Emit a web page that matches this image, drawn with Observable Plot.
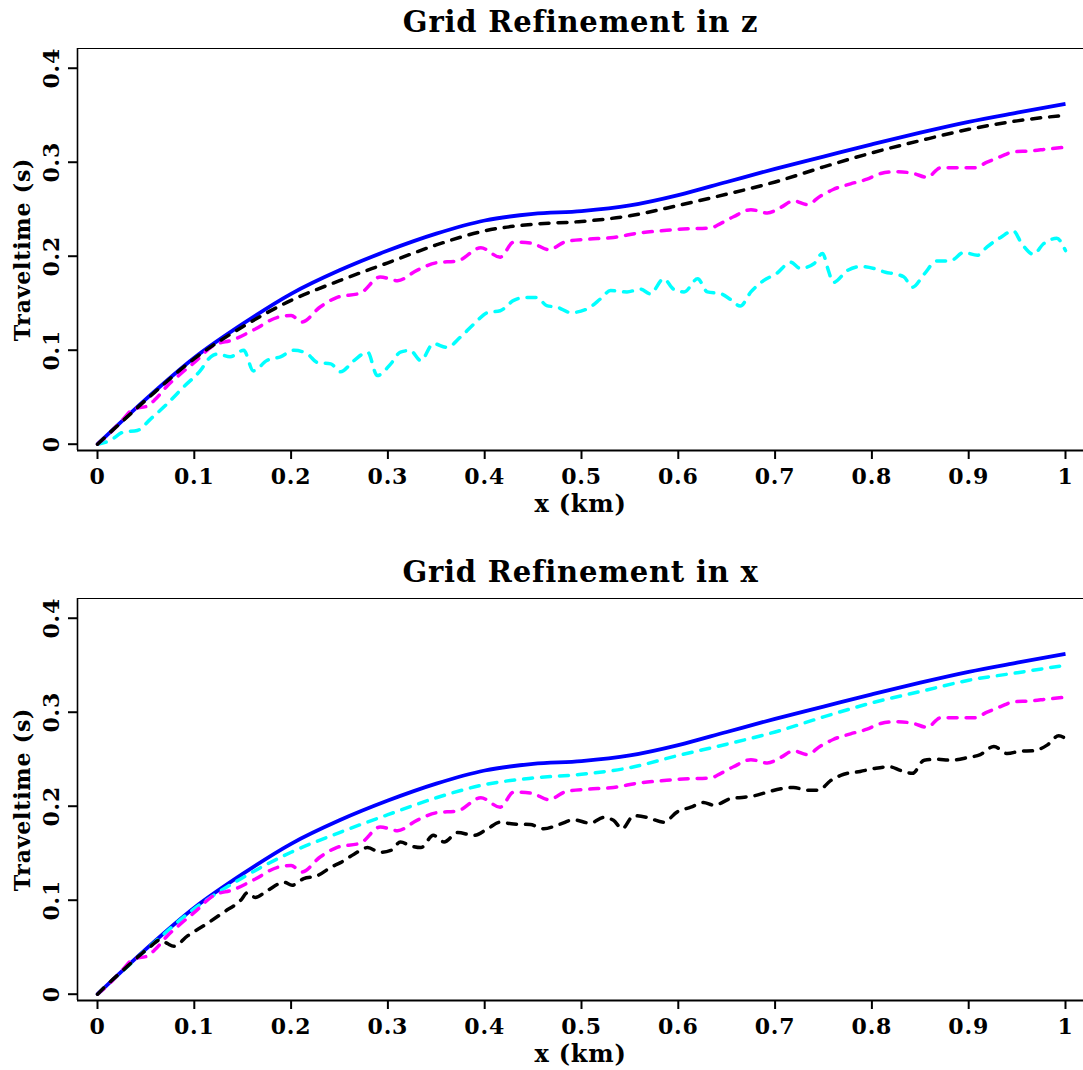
<!DOCTYPE html>
<html><head><meta charset="utf-8">
<script src="https://cdn.jsdelivr.net/npm/d3@7"></script>
<script src="https://cdn.jsdelivr.net/npm/@observablehq/plot@0.6"></script>
<style>
html,body{margin:0;padding:0;background:#fff;overflow:hidden;}
#c svg{display:block;}
#c svg text{letter-spacing:0.8px;}
</style></head><body><div id="c"></div>
<script>
// ---- tick labels ----
const xTicks = [0,0.1,0.2,0.3,0.4,0.5,0.6,0.7,0.8,0.9,1];
const yTicks = [0,0.1,0.2,0.3,0.4];
const titles = ["Grid Refinement in z", "Grid Refinement in x"];
const xLabel = "x (km)";
const yLabel = "Traveltime (s)";

// ---- exact solution (blue, both panels) ----
const exactX = [0,0.05,0.1,0.15,0.2,0.25,0.3,0.35,0.4,0.45,0.5,0.55,0.6,0.65,0.7,0.75,0.8,0.85,0.9,0.95,1.0];
const exactT = [0,0.048,0.092,0.128,0.160,0.185,0.206,0.224,0.238,0.245,0.248,0.254,0.265,0.279,0.293,0.306,0.319,0.3315,0.343,0.3527,0.362];

// ---- coarse grid (magenta, both panels) ----
const coarseX = [0,0.013,0.025,0.038,0.05,0.06,0.072,0.086,0.1,0.12,0.14,0.162,0.186,0.2,0.211,0.23,0.247,0.272,0.292,0.31,0.33,0.35,0.372,0.396,0.416,0.43,0.448,0.466,0.485,0.505,0.533,0.561,0.582,0.605,0.633,0.644,0.657,0.675,0.692,0.706,0.719,0.733,0.747,0.76,0.778,0.795,0.809,0.826,0.843,0.857,0.871,0.892,0.905,0.919,0.933,0.946,0.964,0.981,1.0];
const coarseT = [0,0.012,0.025,0.038,0.040,0.048,0.062,0.075,0.087,0.105,0.111,0.122,0.135,0.137,0.130,0.146,0.156,0.161,0.178,0.174,0.185,0.193,0.195,0.209,0.199,0.215,0.214,0.207,0.216,0.218,0.220,0.225,0.227,0.229,0.230,0.235,0.242,0.2495,0.246,0.252,0.259,0.255,0.264,0.271,0.277,0.282,0.288,0.290,0.288,0.284,0.294,0.294,0.294,0.300,0.306,0.311,0.312,0.314,0.316];

// ---- fine refinement (black in z panel, cyan in x panel) ----
const fineZX = [0,0.05,0.1,0.15,0.2,0.25,0.3,0.35,0.4,0.45,0.5,0.55,0.6,0.65,0.7,0.75,0.8,0.85,0.9,0.95,1.0];
const fineZT = [0,0.047,0.091,0.125,0.153,0.174,0.193,0.212,0.227,0.234,0.237,0.243,0.254,0.266,0.279,0.295,0.310,0.323,0.335,0.344,0.350];
const fineXX = [0,0.05,0.1,0.15,0.2,0.25,0.3,0.35,0.4,0.45,0.5,0.55,0.6,0.65,0.7,0.75,0.8,0.85,0.9,0.95,1.0];
const fineXT = [0,0.047,0.091,0.124,0.151,0.172,0.191,0.209,0.223,0.230,0.234,0.241,0.254,0.266,0.279,0.295,0.310,0.322,0.334,0.342,0.350];

// ---- medium refinement in z (cyan, top panel) ----
const medZX = [0,0.013,0.027,0.041,0.055,0.072,0.089,0.106,0.117,0.124,0.137,0.151,0.161,0.175,0.189,0.203,0.217,0.227,0.241,0.251,0.265,0.279,0.289,0.303,0.313,0.323,0.334,0.347,0.361,0.375,0.389,0.403,0.416,0.43,0.44,0.454,0.464,0.475,0.489,0.506,0.52,0.53,0.547,0.561,0.571,0.585,0.595,0.606,0.62,0.63,0.644,0.654,0.664,0.675,0.688,0.702,0.716,0.726,0.74,0.749,0.755,0.76,0.775,0.788,0.802,0.814,0.824,0.833,0.842,0.854,0.867,0.881,0.895,0.909,0.919,0.933,0.946,0.955,0.967,0.977,0.991,1.0];
const medZT = [0,0.004,0.013,0.0146,0.027,0.043,0.061,0.078,0.093,0.096,0.093,0.100,0.078,0.089,0.093,0.100,0.096,0.087,0.0855,0.077,0.089,0.098,0.073,0.0855,0.098,0.0997,0.089,0.107,0.103,0.114,0.128,0.140,0.142,0.153,0.156,0.156,0.1475,0.1457,0.140,0.144,0.155,0.1635,0.162,0.165,0.160,0.176,0.165,0.162,0.176,0.162,0.160,0.154,0.147,0.162,0.174,0.182,0.1936,0.187,0.192,0.203,0.185,0.172,0.185,0.189,0.187,0.183,0.181,0.178,0.167,0.181,0.195,0.195,0.204,0.201,0.210,0.220,0.227,0.213,0.202,0.213,0.219,0.206];

// ---- medium refinement in x (black, bottom panel) ----
const medXX = [0,0.013,0.027,0.041,0.055,0.065,0.072,0.079,0.093,0.113,0.13,0.148,0.155,0.163,0.175,0.193,0.201,0.213,0.227,0.241,0.251,0.265,0.279,0.292,0.303,0.313,0.323,0.334,0.347,0.358,0.372,0.389,0.403,0.416,0.43,0.447,0.461,0.478,0.492,0.509,0.523,0.533,0.542,0.554,0.568,0.585,0.599,0.613,0.626,0.637,0.654,0.668,0.678,0.692,0.706,0.719,0.733,0.745,0.757,0.771,0.788,0.802,0.818,0.83,0.842,0.854,0.867,0.881,0.898,0.912,0.926,0.94,0.953,0.967,0.981,0.993,1.0];
const medXT = [0,0.013,0.026,0.039,0.051,0.058,0.054,0.051,0.062,0.075,0.087,0.100,0.108,0.103,0.110,0.119,0.116,0.123,0.126,0.135,0.140,0.149,0.156,0.151,0.153,0.162,0.158,0.156,0.169,0.162,0.172,0.169,0.176,0.183,0.181,0.1805,0.176,0.181,0.1855,0.182,0.188,0.185,0.176,0.190,0.188,0.183,0.194,0.199,0.204,0.201,0.208,0.2096,0.211,0.215,0.2185,0.220,0.217,0.217,0.227,0.234,0.237,0.240,0.242,0.238,0.235,0.249,0.250,0.249,0.2515,0.255,0.2635,0.256,0.2585,0.259,0.265,0.275,0.272];

const toRows = (xs, ts) => xs.map((x, i) => ({x, t: ts[i]}));

const xDomain = [-0.02066, 1.0186];
const yDomain = [-0.0067, 0.421];
const FONT = "DejaVu Serif";
const fmt = d => String(Math.round(d * 10) / 10);

function panel(title, series, height, marginBottom) {
  const lineMarks = series.map(s => Plot.line(toRows(s.x, s.t), {
    x: "x", y: "t", stroke: s.color, strokeWidth: s.width,
    strokeDasharray: s.dash, strokeLinecap: s.dash ? "round" : "butt",
    curve: "monotone-x"
  }));
  return Plot.plot({
    width: 1083, height,
    marginLeft: 77, marginRight: 0, marginTop: 48, marginBottom,
    style: {fontFamily: FONT, fontWeight: "bold", fontSize: "22px", color: "black", background: "white"},
    x: {domain: xDomain},
    y: {domain: yDomain},
    marks: [
      Plot.ruleY([yDomain[1]], {stroke: "black", strokeWidth: 1.2}),
      Plot.ruleX([xDomain[0]], {stroke: "black", strokeWidth: 1.6}),
      Plot.ruleY([yDomain[0]], {stroke: "black", strokeWidth: 2}),
      ...lineMarks,
      Plot.axisX(xTicks, {tickSize: 9, tickPadding: 9, strokeWidth: 2, label: null, tickFormat: fmt}),
      Plot.axisY(yTicks, {tickSize: 9, tickPadding: 10, tickRotate: -90, strokeWidth: 2, label: null, tickFormat: fmt}),
      Plot.text([title], {frameAnchor: "top", dy: -26, lineAnchor: "middle", textAnchor: "middle", text: d => d, fontSize: 29}),
      Plot.text([xLabel], {frameAnchor: "bottom", dy: 54, lineAnchor: "middle", textAnchor: "middle", text: d => d, fontSize: 24}),
      Plot.text([yLabel], {frameAnchor: "left", dx: -55, rotate: -90, lineAnchor: "middle", textAnchor: "middle", text: d => d, fontSize: 22})
    ]
  });
}

const DASH = "9,9";
const topPanel = panel(titles[0], [
  {x: exactX, t: exactT, color: "#0000ff", width: 3.8},
  {x: medZX, t: medZT, color: "#00ffff", width: 3.5, dash: DASH},
  {x: coarseX, t: coarseT, color: "#ff00ff", width: 3.5, dash: DASH},
  {x: fineZX, t: fineZT, color: "#000000", width: 3.5, dash: DASH}
], 550, 100);
const bottomPanel = panel(titles[1], [
  {x: exactX, t: exactT, color: "#0000ff", width: 3.8},
  {x: fineXX, t: fineXT, color: "#00ffff", width: 3.5, dash: DASH},
  {x: coarseX, t: coarseT, color: "#ff00ff", width: 3.5, dash: DASH},
  {x: medXX, t: medXT, color: "#000000", width: 3.5, dash: DASH}
], 520, 70);
document.getElementById("c").append(topPanel, bottomPanel);
</script></body></html>
